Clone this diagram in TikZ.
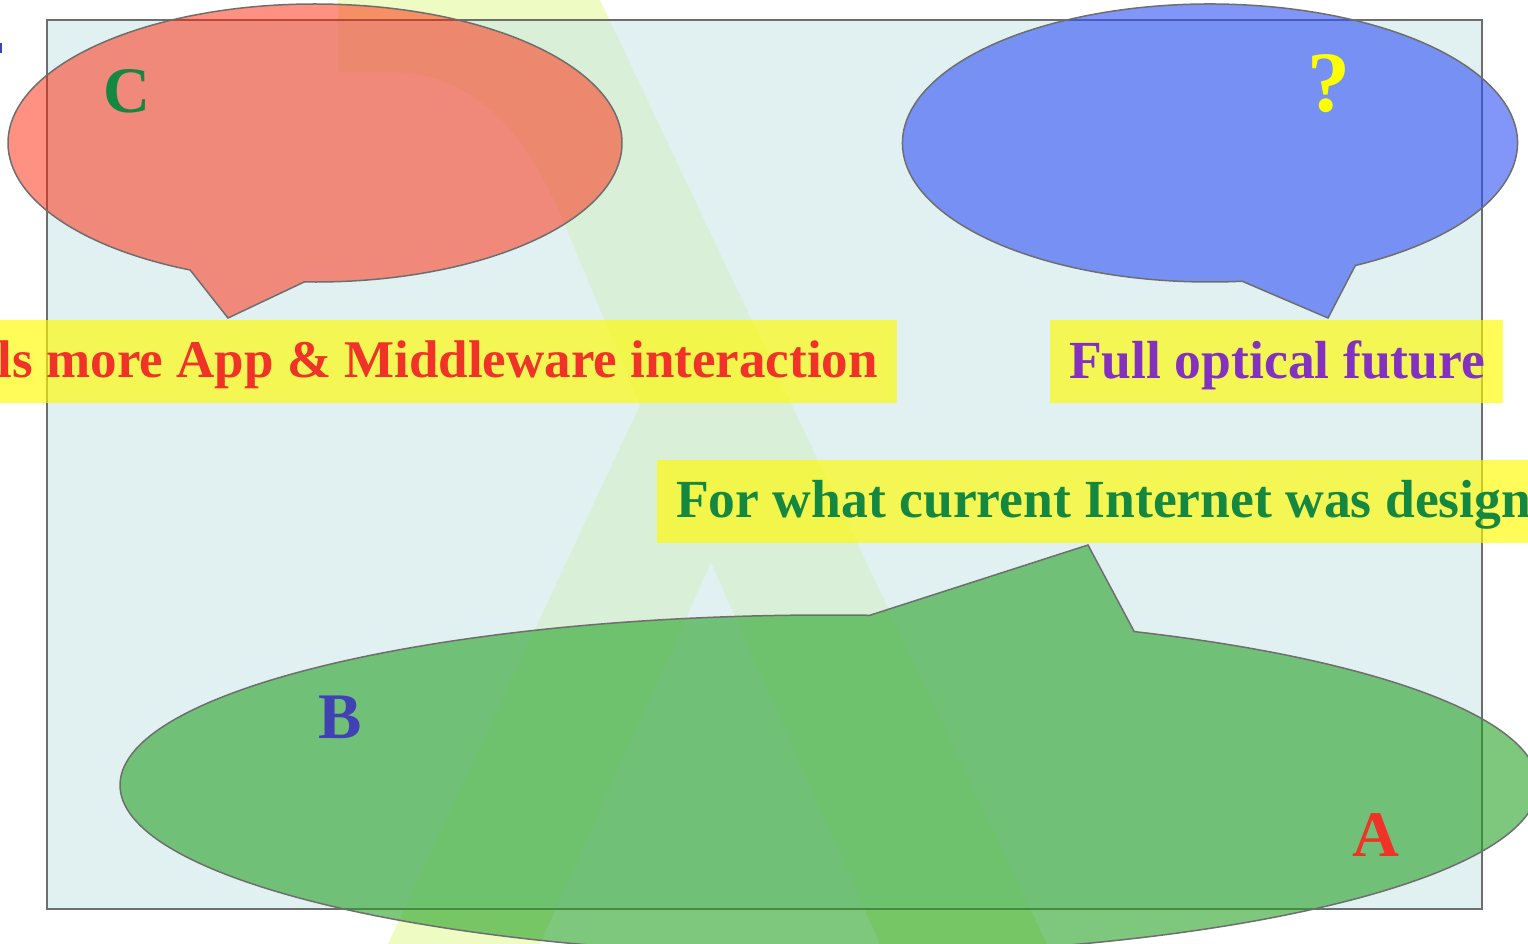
\documentclass[tikz,border=0pt]{standalone}
\usepackage{fontspec}
\setmainfont{Liberation Serif}
\usetikzlibrary{calc}
\definecolor{bandcol}{RGB}{238,252,196}
\definecolor{bgcol}{RGB}{204,230,230}
\definecolor{edgegray}{RGB}{110,110,110}
\definecolor{salmoncol}{RGB}{255,35,5}
\definecolor{bluecol}{RGB}{47,80,247}
\definecolor{greencol}{RGB}{38,163,38}
\definecolor{boxyellow}{RGB}{255,250,0}
\definecolor{redtxt}{RGB}{240,50,40}
\definecolor{purptxt}{RGB}{130,50,190}
\definecolor{greentxt}{RGB}{20,135,65}
\definecolor{bluetxt}{RGB}{65,65,180}
\definecolor{qyellow}{RGB}{255,255,0}
\begin{document}
\begin{tikzpicture}[x=1pt,y=1pt,
  bubble/.style={draw=edgegray, line width=1.5pt, line join=miter},
  ybox/.style={fill=boxyellow, fill opacity=0.65},
  lbl/.style={font=\fontsize{53.6}{60}\selectfont\bfseries, inner sep=0pt},
  bigletter/.style={font=\fontsize{65}{72}\selectfont\bfseries, inner sep=0pt}]
\useasboundingbox (0,0) rectangle (1528,-944);
% big letter-like band
\fill[bandcol] (338,0) -- (338,-72) -- (400,-72)
  .. controls (480,-78) and (525,-135) .. (560,-213)
  -- (640,-405) -- (388,-944) -- (540,-944) -- (711,-562)
  -- (880,-944) -- (1047,-944) -- (600,0) -- cycle;
% background panel
\path[fill=bgcol, fill opacity=0.59, draw=edgegray, line width=2pt]
  (47,-20) rectangle (1482,-909);
% speech bubbles
\coordinate (Cc) at (315,-143);
\coordinate (Bc) at (1210,-143);
\coordinate (Gc) at (829,-785);
\path[bubble, fill=salmoncol, fill opacity=0.5]
  ($(Cc)+(268:307 and 139)$) arc[start angle=268, end angle=606, x radius=307, y radius=139]
  -- (228,-318) -- cycle;
\path[bubble, fill=bluecol, fill opacity=0.6]
  ($(Bc)+(298.2:307.5 and 139)$) arc[start angle=298.2, end angle=636, x radius=307.5, y radius=139]
  -- (1328,-318) -- cycle;
\path[bubble, fill=greencol, fill opacity=0.6]
  ($(Gc)+(86.7:709 and 170)$) arc[start angle=86.7, end angle=424.5, x radius=709, y radius=170]
  -- (1088,-545) -- cycle;
% label boxes
\path[ybox] (0,-320) rectangle (897,-403);
\path[ybox] (1050,-320) rectangle (1503,-403);
\path[ybox] (657,-460) rectangle (1528,-543);
% texts
\node[lbl, text=redtxt, anchor=base east, font=\fontsize{53}{60}\selectfont\bfseries] (needs) at (878,-377) {ls more App \& Middleware interaction};
\node[lbl, text=purptxt, anchor=base west] (optical) at (1069,-378) {Full optical future};
\node[lbl, text=greentxt, anchor=base west] (designed) at (676,-517) {For what current Internet was design};
\node[bigletter, text=greentxt, anchor=base west] (lC) at (103,-113) {C};
\node[bigletter, text=qyellow, anchor=base, font=\fontsize{86}{90}\selectfont\bfseries] (lQ) at (1329,-112) {?};
\node[bigletter, text=bluetxt, anchor=base west] (lB) at (318,-738) {B};
\node[bigletter, text=redtxt, anchor=base west] (lA) at (1352,-856) {A};
% clipped mark at left edge
\fill[bluetxt] (0,-43) rectangle (1.5,-53);
\end{tikzpicture}
\end{document}
